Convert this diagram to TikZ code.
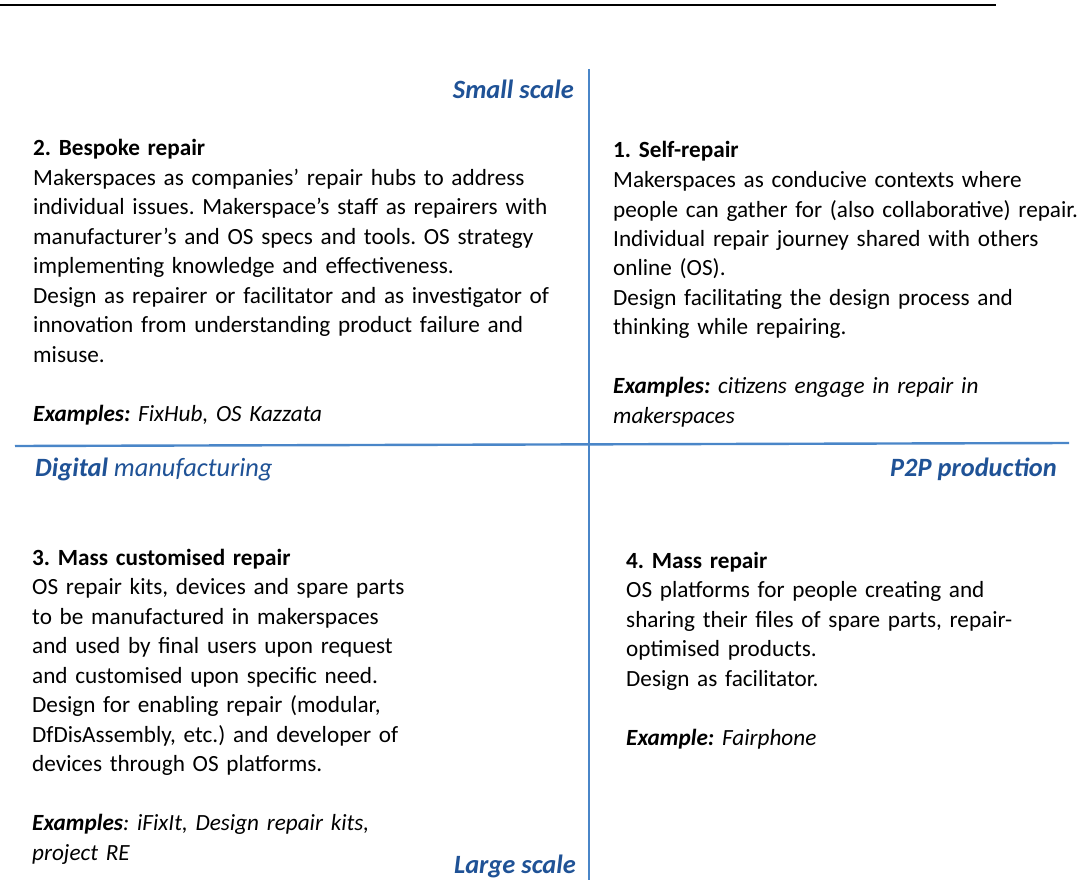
\documentclass[tikz,border=0pt]{standalone}
\usepackage{fontspec}
\setmainfont{Carlito}
\frenchspacing
\definecolor{axisblue}{HTML}{4A86C8}
\definecolor{labelblue}{HTML}{1F5296}
\begin{document}
\begin{tikzpicture}[x=1pt,y=-1pt,
  body/.style={anchor=base west, inner sep=0pt, align=left, text width=560pt, font=\fontsize{23.2}{29.5}\selectfont},
  axislabel/.style={inner sep=0pt, text=labelblue, font=\fontsize{26.4}{30}\selectfont\bfseries\itshape},
  axisline/.style={draw=axisblue, line width=2.6pt},
  toprule/.style={draw=black, line width=1.3pt}]
\useasboundingbox (0,0) rectangle (1082,880);
% top rule
\coordinate (rl) at (0,5);
\coordinate (rr) at (996,5);
\draw[toprule] (rl) -- (rr);
% axes
\coordinate (vtop) at (589,69);
\coordinate (vbot) at (589,880);
\coordinate (hl) at (15,446);
\coordinate (hr) at (1069,443);
\draw[axisline] (vtop) -- (vbot);
\draw[axisline, line width=2.4pt] (hl) -- (hr);
% axis labels
\node[axislabel, anchor=base east] (small) at (574,98.5) {Small scale};
\node[axislabel, anchor=base east] (large) at (576,873) {Large scale};
\node[axislabel, anchor=base west] (digital) at (35,476.5) {Digital {\mdseries manufacturing}};
\node[axislabel, anchor=base east] (p2p) at (1057,476.5) {P2P production};
% quadrants
\node[body] (q2) at (33,156) {\textbf{2. Bespoke repair}\\
Makerspaces as companies’ repair hubs to address\\
individual issues. Makerspace’s staff as repairers with\\
manufacturer’s and OS specs and tools. OS strategy\\
implementing knowledge and effectiveness.\\
Design as repairer or facilitator and as investigator of\\
innovation from understanding product failure and\\
misuse.\\
\mbox{}\\
\textbf{\textit{Examples:}} \textit{FixHub, OS Kazzata}};
\node[body] (q1) at (613,158) {\textbf{1. Self-repair}\\
Makerspaces as conducive contexts where\\
people can gather for (also collaborative) repair.\\
Individual repair journey shared with others\\
online (OS).\\
Design facilitating the design process and\\
thinking while repairing.\\
\mbox{}\\
\textbf{\textit{Examples:}} \textit{citizens engage in repair in}\\
\textit{makerspaces}};
\node[body] (q3) at (32,565) {\textbf{3. Mass customised repair}\\
OS repair kits, devices and spare parts\\
to be manufactured in makerspaces\\
and used by final users upon request\\
and customised upon specific need.\\
Design for enabling repair (modular,\\
DfDisAssembly, etc.) and developer of\\
devices through OS platforms.\\
\mbox{}\\
\textbf{\textit{Examples}}\textit{: iFixIt, Design repair kits,}\\
\textit{project RE}};
\node[body] (q4) at (626,568) {\textbf{4. Mass repair}\\
OS platforms for people creating and\\
sharing their files of spare parts, repair-\\
optimised products.\\
Design as facilitator.\\
\mbox{}\\
\textbf{\textit{Example:}} \textit{Fairphone}};
\end{tikzpicture}
\end{document}
